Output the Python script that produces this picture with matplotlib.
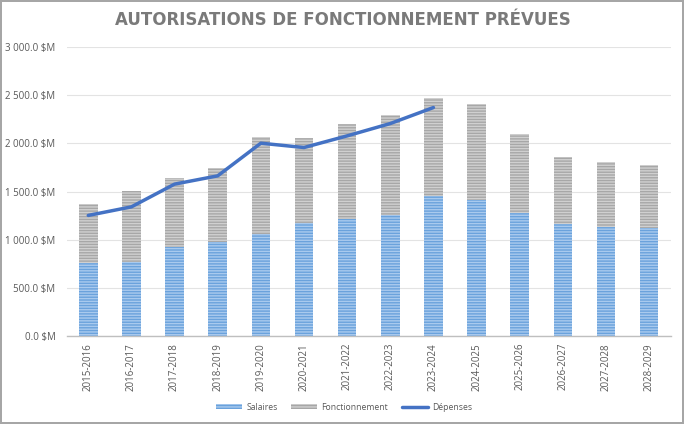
import matplotlib
matplotlib.use("Agg")
import matplotlib.pyplot as plt
import numpy as np
from matplotlib.ticker import FuncFormatter

categories = ["2015-2016", "2016-2017", "2017-2018", "2018-2019", "2019-2020",
              "2020-2021", "2021-2022", "2022-2023", "2023-2024", "2024-2025",
              "2025-2026", "2026-2027", "2027-2028", "2028-2029"]
totals = [1369, 1507, 1639, 1740, 2068, 2057, 2206, 2292, 2472, 2414, 2099, 1854, 1802, 1774]
salaires = [760, 768, 923, 975, 1058, 1169, 1214, 1255, 1456, 1408, 1279, 1162, 1131, 1124]
fonctionnement = [t - s for t, s in zip(totals, salaires)]
depenses = [1252, 1341, 1577, 1663, 2002, 1957, 2078, 2206, 2372]

plt.rcParams['font.family'] = ['Open Sans', 'DejaVu Sans']
plt.rcParams['hatch.linewidth'] = 1.0

fig = plt.figure(figsize=(6.84, 4.24), dpi=100)
fig.patch.set_facecolor('white')
fig.patch.set_edgecolor('#A6A6A6')
fig.patch.set_linewidth(1.5)

ax = fig.add_axes([0.0975, 0.2075, 0.8831, 0.6815])
x = np.arange(len(categories))
w = 0.43
b1 = ax.bar(x, salaires, w, color='#6AA2DC', edgecolor='#A9CAEE', hatch='------', lw=0, label='Salaires', zorder=2)
b2 = ax.bar(x, fonctionnement, w, bottom=salaires, color='#A7A7A7', edgecolor='#D0D0D0', hatch='------', lw=0, label='Fonctionnement', zorder=2)
l1, = ax.plot(x[:len(depenses)], depenses, color='#4472C4', lw=2.5, label='Dépenses', zorder=3, solid_capstyle='round')

ax.set_xlim(-0.5, len(categories) - 0.5)
ax.set_ylim(0, 3000)
ax.set_yticks(np.arange(0, 3001, 500))
ax.yaxis.set_major_formatter(FuncFormatter(lambda v, p: f"{v:,.1f} $M".replace(",", " ")))
ax.set_xticks(x)
ax.set_xticklabels(categories, rotation=90)
ax.tick_params(axis='both', length=0, labelsize=7, colors='#595959')
ax.tick_params(axis='y', pad=8)
ax.tick_params(axis='x', pad=5)
ax.grid(axis='y', color='#E3E3E3', lw=0.8, zorder=0)
for s in ['top', 'right', 'left']:
    ax.spines[s].set_visible(False)
ax.spines['bottom'].set_color('#BFBFBF')
ax.spines['bottom'].set_linewidth(1.0)

fig.text(0.502, 0.952, "AUTORISATIONS DE FONCTIONNEMENT PRÉVUES", ha='center', va='center',
         fontsize=12, fontweight='bold', color='#7A7A7A', family=['DejaVu Sans'])

fig.legend(handles=[b1, b2, l1], labels=['Salaires', 'Fonctionnement', 'Dépenses'],
           loc='center', bbox_to_anchor=(0.503, 0.04), ncol=3, frameon=False,
           fontsize=6.2, labelcolor='#595959', handlelength=3.0, handleheight=0.6,
           columnspacing=1.6, handletextpad=0.5)

fig.savefig('out.png', dpi=100)
